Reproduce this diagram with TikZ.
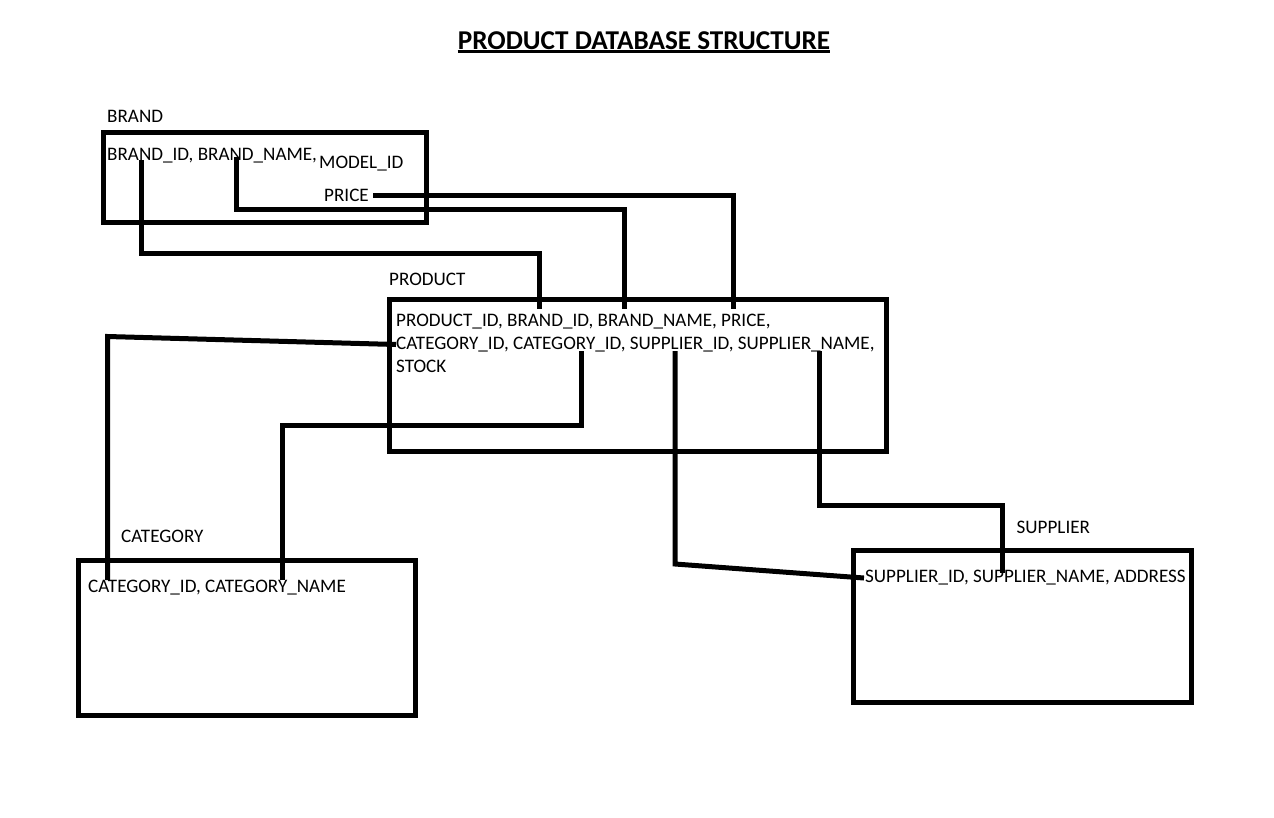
\documentclass[tikz,border=0pt]{standalone}
\usepackage{fontspec}
\setmainfont{Carlito}
\begin{document}
\begin{tikzpicture}[x=1pt,y=-1pt,
  tbox/.style={draw, line width=5pt, inner sep=0pt},
  lbl/.style={anchor=base west, inner sep=0pt, font=\fontsize{19.1}{23}\selectfont},
  conn/.style={line width=5pt, line join=miter, line cap=butt}]
\useasboundingbox (0,0) rectangle (1274,817);
\fill[white] (0,0) rectangle (1274,817);

% title
\node[anchor=base, inner sep=0pt, font=\fontsize{27.2}{30}\selectfont\bfseries] (title) at (644,49) {PRODUCT DATABASE STRUCTURE};
\draw[line width=2.2pt] (title.west |- 0,51.5) -- (title.east |- 0,51.5);

% boxes
\node[tbox, minimum width=323pt, minimum height=90pt] (brand) at (265,177.5) {};
\node[tbox, minimum width=497pt, minimum height=152pt] (product) at (638,375.5) {};
\node[tbox, minimum width=337pt, minimum height=155pt] (category) at (247,638) {};
\node[tbox, minimum width=338pt, minimum height=152pt] (supplier) at (1022.5,626.5) {};

% labels
\node[lbl] (brandlbl) at (107,122) {BRAND};
\node[lbl] (brandf) at (107,160.5) {BRAND\_ID, BRAND\_NAME,};
\node[lbl] (modelf) at (319,168) {MODEL\_ID};
\node[lbl] (pricef) at (324,201) {PRICE};

\node[lbl] (productlbl) at (389,285) {PRODUCT};
\node[lbl] (prodf1) at (396,326.5) {PRODUCT\_ID, BRAND\_ID, BRAND\_NAME, PRICE,};
\node[lbl] (prodf2) at (396,349.5) {CATEGORY\_ID, CATEGORY\_ID, SUPPLIER\_ID, SUPPLIER\_NAME,};
\node[lbl] (prodf3) at (396,372.5) {STOCK};

\node[lbl] (categorylbl) at (121,542.5) {CATEGORY};
\node[lbl] (catf) at (88,592.5) {CATEGORY\_ID, CATEGORY\_NAME};

\node[lbl] (supplierlbl) at (1016.5,533) {SUPPLIER};
\node[lbl] (supf) at (865,582.5) {SUPPLIER\_ID, SUPPLIER\_NAME, ADDRESS};

% connector end points
\coordinate (b_id) at (141.5,160);
\coordinate (b_name) at (236,157);
\coordinate (b_price) at (373,195.5);
\coordinate (p_bid) at (539,309);
\coordinate (p_bname) at (624,309);
\coordinate (p_price) at (733,309);
\coordinate (p_cat1) at (396,344.5);
\coordinate (p_cat2) at (581,351);
\coordinate (p_sid) at (675,351);
\coordinate (p_sname) at (819,351);
\coordinate (c_id) at (107.5,580);
\coordinate (c_name) at (282,580);
\coordinate (s_id) at (864,578);
\coordinate (s_name) at (1002.5,573);

% connectors
\draw[conn] (b_id) -- (141.5,253) -- (539,253) -- (p_bid);
\draw[conn] (b_name) -- (236,209.5) -- (624,209.5) -- (p_bname);
\draw[conn] (b_price) -| (p_price);
\draw[conn] (p_cat1) -- (107.5,336.5) -- (c_id);
\draw[conn] (p_cat2) -- (581,425) -- (282,425) -- (c_name);
\draw[conn] (p_sid) -- (675,564) -- (s_id);
\draw[conn] (p_sname) -- (819,505.5) -- (1002.5,505.5) -- (s_name);
\end{tikzpicture}
\end{document}
